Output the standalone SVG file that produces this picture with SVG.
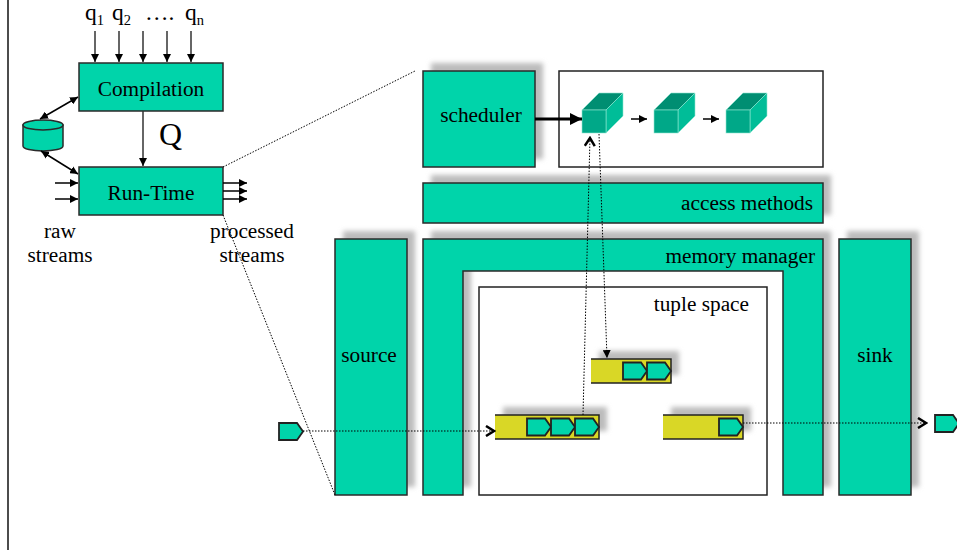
<svg xmlns="http://www.w3.org/2000/svg" width="957" height="550" viewBox="0 0 957 550">
<style>
text{font-family:"Liberation Serif","Times New Roman",serif;font-size:21.3px;fill:#000}
.m{text-anchor:middle}.e{text-anchor:end}
.q{font-size:23.5px}
.t{fill:#00d4aa;stroke:#2a2a2a;stroke-width:1.5}
.w{fill:#fff;stroke:#222;stroke-width:1.5}
.y{fill:#d9d726}
.yb{fill:none;stroke:#222;stroke-width:1.5}
.s{fill:#bcbcbc;filter:url(#b)}
.c{fill:none;stroke:#333;stroke-width:1.5}
.k{fill:none;stroke:#000;stroke-width:1.5}
.d{fill:none;stroke:#000;stroke-width:1;stroke-dasharray:1.5 1.5}
.p{fill:#00d4aa;stroke:#222;stroke-width:1.8}
</style>
<defs>
<filter id="b" x="-20%" y="-20%" width="140%" height="140%"><feGaussianBlur stdDeviation="2.6"/></filter>
<marker id="a" viewBox="0 0 8 8" refX="8" refY="4" markerWidth="8" markerHeight="8" markerUnits="userSpaceOnUse" orient="auto-start-reverse"><path d="M0 0L8 4L0 8Z" fill="#000"/></marker>
<marker id="big" viewBox="0 0 12 12" refX="12" refY="6" markerWidth="12" markerHeight="12" markerUnits="userSpaceOnUse" orient="auto"><path d="M0 0L12 6L0 12Z" fill="#000"/></marker>
<marker id="o" viewBox="0 0 12 12" refX="11" refY="6" markerWidth="12" markerHeight="12" markerUnits="userSpaceOnUse" orient="auto"><path d="M2 1L10 6L2 11" fill="none" stroke="#000" stroke-width="2.5"/></marker>
<path id="pent" d="M0 0H18L24 8.5L18 17H0Z"/>
<g id="cube" stroke="#8fe6d2" stroke-width="0.6">
<path d="M0 17L17 0H41L24 17Z" fill="#008e72"/>
<path d="M24 17L41 0V23L24 40Z" fill="#00bd98"/>
<rect x="0" y="17" width="24" height="23" fill="#00a888"/>
</g>
</defs>
<path d="M8 0V550" fill="none" stroke="#111" stroke-width="1.5"/>
<g id="compilation"><rect class="t" x="79" y="63" width="144" height="48"/><text class="m" x="151" y="96">Compilation</text></g>
<g id="runtime"><rect class="t" x="79" y="167" width="144" height="48"/><text class="m" x="151" y="200">Run-Time</text></g>
<g id="store"><path class="t" d="M23 125V146A20 5 0 0 0 63 146V125Z"/><ellipse class="t" cx="43" cy="125" rx="20" ry="5"/></g>
<g id="labels">
<text class="q" x="85" y="20">q<tspan font-size="14.5" dy="5">1</tspan></text>
<text class="q" x="112" y="20">q<tspan font-size="14.5" dy="5">2</tspan></text>
<text class="q" x="145" y="20">….</text>
<text class="q" x="185" y="20">q<tspan font-size="14.5" dy="5">n</tspan></text>
<text x="159" y="145" style="font-size:32px">Q</text>
<text class="m" x="60" y="238">raw</text><text class="m" x="60" y="262">streams</text>
<text class="m" x="252" y="238">processed</text><text class="m" x="252" y="262">streams</text>
</g>
<g id="scheduler"><rect class="s" x="431" y="63" width="112" height="96"/><rect class="t" x="423" y="71" width="112" height="96"/><text class="m" x="481" y="122">scheduler</text></g>
<g id="queue-panel"><rect class="w" x="559" y="71" width="264" height="96"/>
<use href="#cube" x="582" y="93"/><use href="#cube" x="654" y="93"/><use href="#cube" x="726" y="93"/></g>
<g id="access-methods"><rect class="s" x="431" y="175" width="400" height="40"/><rect class="t" x="423" y="183" width="400" height="40"/><text class="e" x="813" y="210">access methods</text></g>
<g id="source"><rect class="s" x="343" y="231" width="72" height="256"/><rect class="t" x="335" y="239" width="72" height="256"/><text class="m" x="369" y="362">source</text></g>
<g id="sink"><rect class="s" x="847" y="231" width="72" height="256"/><rect class="t" x="839" y="239" width="72" height="256"/><text class="m" x="875" y="362">sink</text></g>
<g id="memory-manager"><path class="s" d="M431 231H831V487H791V263H471V487H431Z"/><path class="t" d="M423 239H823V495H783V271H463V495H423Z"/><text class="e" x="815" y="263">memory manager</text></g>
<g id="tuple-space"><rect class="w" x="479" y="287" width="288" height="208"/><text class="e" x="749" y="311">tuple space</text></g>
<g id="queue-top"><rect class="s" x="599" y="351" width="80" height="24"/><rect class="y" x="591" y="359" width="80" height="24"/><path class="yb" d="M591 359H671V383H591"/><use class="p" href="#pent" x="623" y="362.500"/><use class="p" href="#pent" x="647" y="362.500"/></g>
<g id="queue-left"><rect class="s" x="503" y="407" width="104" height="24"/><rect class="y" x="495" y="415" width="104" height="24"/><path class="yb" d="M495 415H599V439H495"/><use class="p" href="#pent" x="527" y="418.500"/><use class="p" href="#pent" x="551" y="418.500"/><use class="p" href="#pent" x="575" y="418.500"/></g>
<g id="queue-right"><rect class="s" x="671" y="407" width="80" height="24"/><rect class="y" x="663" y="415" width="80" height="24"/><path class="yb" d="M663 415H743V439H663"/><use class="p" href="#pent" x="719" y="418.500"/></g>
<g id="tuple-in"><use class="p" href="#pent" x="279" y="423"/></g>
<g id="tuple-out"><use class="p" href="#pent" x="935" y="415"/></g>
<g id="connectors">
<path class="c" d="M95 31V62" marker-end="url(#a)"/><path class="c" d="M119 31V62" marker-end="url(#a)"/><path class="c" d="M143 31V62" marker-end="url(#a)"/><path class="c" d="M167 31V62" marker-end="url(#a)"/><path class="c" d="M191 31V62" marker-end="url(#a)"/>
<path class="c" d="M143 111V166" marker-end="url(#a)"/>
<path class="k" d="M40 119L78 97" marker-start="url(#a)" marker-end="url(#a)"/>
<path class="k" d="M41 151L78 174" marker-start="url(#a)" marker-end="url(#a)"/>
<path class="k" d="M55 183H78" marker-end="url(#a)"/><path class="k" d="M55 199H78" marker-end="url(#a)"/>
<path class="k" d="M223 183H247" marker-end="url(#a)"/><path class="k" d="M223 191H247" marker-end="url(#a)"/><path class="k" d="M223 199H247" marker-end="url(#a)"/>
<path d="M535 119H582" fill="none" stroke="#000" stroke-width="3" marker-end="url(#big)"/>
<path class="k" d="M631 119H647" marker-end="url(#a)"/><path class="k" d="M703 119H719" marker-end="url(#a)"/>
<path class="d" d="M223 167L415 71"/><path class="d" d="M223 215L335 495"/>
<path class="d" d="M303 431H495" marker-end="url(#o)"/>
<path class="d" d="M743 423H927" marker-end="url(#o)"/>
<path class="d" d="M583 415L590 137" marker-end="url(#o)"/>
<path class="d" d="M599 134L607 358" marker-end="url(#a)"/>
</g>
</svg>
